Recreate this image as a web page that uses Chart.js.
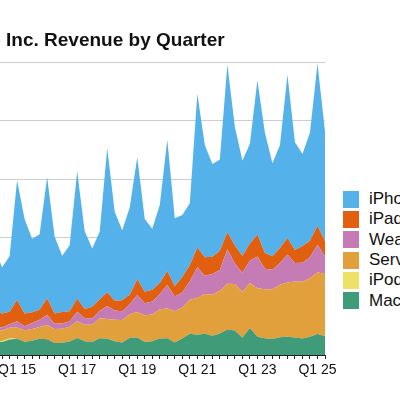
<!DOCTYPE html>
<html><head><meta charset="utf-8">
<script src="https://cdn.jsdelivr.net/npm/chart.js@4/dist/chart.umd.min.js"></script>
<style>
html,body{margin:0;padding:0;width:400px;height:400px;overflow:hidden;background:#fff;font-family:"Liberation Sans",Arial,sans-serif}
#wrap{position:absolute;left:-103px;top:0;width:440px;height:400px}
#title{position:absolute;left:-52px;top:29px;font-weight:bold;font-size:19px;color:#111;white-space:nowrap}
#legend{position:absolute;left:343px;top:189px}
.row{display:flex;align-items:center;height:20.3px;font-size:17px;color:#111;white-space:nowrap}
.box{width:16px;height:17px;margin-right:10px}
</style></head>
<body>
<div id="wrap"><canvas id="c"></canvas></div>
<div id="title">Apple Inc. Revenue by Quarter</div>
<div id="legend"></div>
<script>
const quarters = [];
for (let y = 13; y <= 25; y++) for (let q = 1; q <= 4; q++) { if (y === 25 && q > 2) break; quarters.push('Q' + q + ' ' + y); }
const iPhone = [30.66,22.96,18.15,19.51,32.50,26.06,19.75,23.68,51.18,40.28,31.37,32.21,51.64,32.86,24.05,28.16,54.38,33.25,24.85,28.85,61.58,38.03,29.91,37.19,51.98,31.05,25.99,33.36,55.96,28.96,26.42,26.44,65.60,47.94,39.57,38.87,71.63,50.57,40.67,42.63,65.78,51.33,39.67,43.81,69.70,45.96,39.30,46.22,69.14,46.84];
const iPad = [10.67,8.75,6.37,6.19,11.47,7.61,5.89,5.32,8.99,5.43,4.54,4.28,7.08,4.41,4.88,4.26,5.53,3.89,4.97,4.83,5.86,4.11,4.74,4.09,6.73,4.87,5.02,4.66,5.98,4.37,6.58,6.80,8.44,7.81,7.37,8.25,7.25,7.65,7.22,7.17,9.40,6.67,5.79,6.44,7.02,5.56,7.16,6.95,8.09,6.40];
const Wearables = [1.32,1.35,1.19,1.32,1.38,1.42,1.31,1.48,2.69,1.69,2.64,3.05,4.35,2.19,2.22,2.37,4.02,2.87,2.74,3.23,5.49,3.95,3.74,4.23,7.31,5.13,5.53,6.52,10.01,6.28,6.45,7.88,12.97,7.84,8.78,8.79,14.70,8.81,8.08,9.65,13.48,8.76,8.28,9.32,11.95,7.91,8.10,9.04,11.75,7.52];
const Services = [3.69,4.11,3.99,4.26,4.40,4.57,4.49,4.61,4.80,4.99,5.03,5.09,6.06,5.99,5.98,6.33,7.17,7.04,7.27,8.50,8.47,9.19,9.55,9.98,10.88,11.45,11.46,12.51,12.72,13.35,13.16,14.55,15.76,16.90,17.49,18.28,19.52,19.82,19.60,19.19,20.77,20.91,21.21,22.31,23.12,23.87,24.21,24.97,26.34,26.65];
const iPod = [2.14,0.96,0.73,0.57,0.97,0.46,0.44,0.41,0,0,0,0,0,0,0,0,0,0,0,0,0,0,0,0,0,0,0,0,0,0,0,0,0,0,0,0,0,0,0,0,0,0,0,0,0,0,0,0,0,0];
const Mac = [5.52,5.45,4.89,5.62,6.40,5.52,5.54,6.63,6.94,5.61,6.03,6.88,6.75,5.11,5.24,5.74,7.24,5.84,5.59,7.17,6.90,5.85,5.33,7.41,7.42,5.51,5.82,6.99,7.16,5.35,7.08,9.03,8.68,9.10,8.24,9.18,10.85,10.44,7.38,11.51,7.74,7.17,6.84,7.61,7.78,7.45,7.01,7.74,8.99,7.95];
const yTicks = [0,25,50,75,100,125];

const series = [
  ['Mac', Mac, '#3f9b78'],
  ['iPod', iPod, '#ede266'],
  ['Services', Services, '#e1a03b'],
  ['Wearables', Wearables, '#c57bb3'],
  ['iPad', iPad, '#e0600f'],
  ['iPhone', iPhone, '#55b1e9']
];
const datasets = series.map((s, i) => ({
  label: s[0], data: s[1], backgroundColor: s[2], borderColor: s[2], borderWidth: 0,
  fill: i === 0 ? 'origin' : '-1', pointRadius: 0, tension: 0
}));
const lg = document.getElementById('legend');
series.slice().reverse().forEach(s => {
  const r = document.createElement('div'); r.className = 'row';
  r.innerHTML = '<div class="box" style="background:' + s[2] + '"></div><span>' + s[0] + '</span>';
  lg.appendChild(r);
});
new Chart(document.getElementById('c'), {
  type: 'line',
  data: { labels: quarters, datasets },
  options: {
    responsive: true, maintainAspectRatio: false, animation: false,
    layout: { padding: { top: 62, right: 12, left: 0, bottom: 0 } },
    plugins: { legend: { display: false }, tooltip: { enabled: false } },
    scales: {
      x: {
        offset: false,
        grid: { drawOnChartArea: false, tickLength: 4, color: '#222' },
        border: { color: '#222' },
        ticks: { autoSkip: false, maxRotation: 0, color: '#111', font: { size: 14, family: 'Liberation Sans' }, padding: 3,
          callback: (v, i) => i % 8 === 0 ? quarters[i] : '' },
        afterFit: s => { s.height = 45; }
      },
      y: {
        stacked: true, min: 0, max: 125,
        afterBuildTicks: s => { s.ticks = yTicks.map(v => ({ value: v })); },
        grid: { color: '#cccccc' }, border: { display: false },
        ticks: { callback: v => '$' + v + 'B', font: { size: 13 } },
        afterFit: s => { s.width = 60; }
      }
    }
  }
});
</script>
</body></html>
